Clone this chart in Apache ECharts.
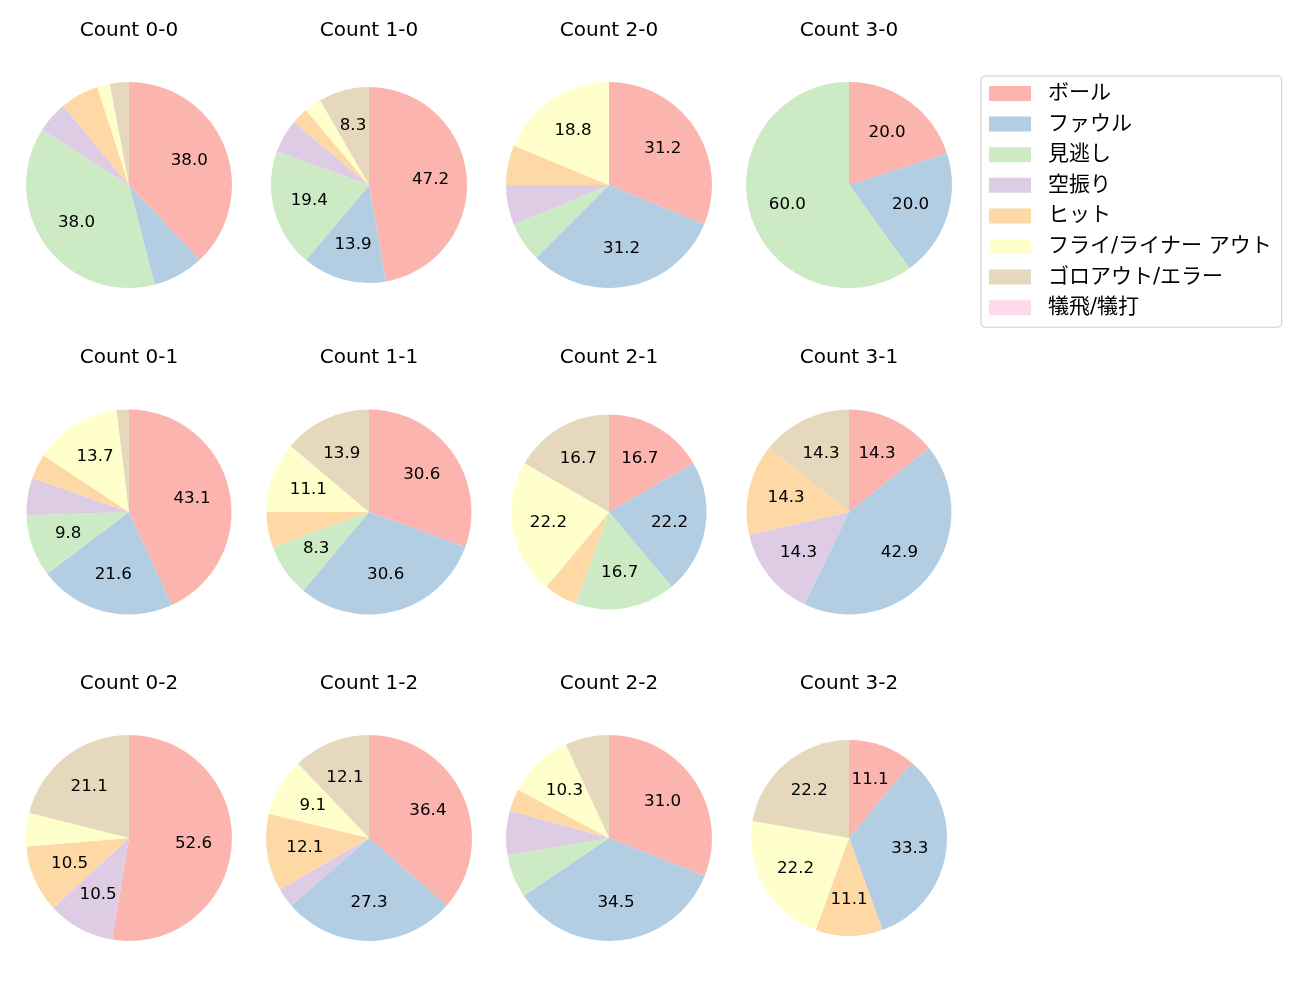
<!DOCTYPE html>
<html><head><meta charset="utf-8">
<script src="https://cdn.jsdelivr.net/npm/echarts@6/dist/echarts.min.js"></script>
<style>html,body{margin:0;padding:0;background:#fff}#c{width:1300px;height:1000px}</style>
</head><body><div id="c"></div>
<script>
const categories = ['ボール','ファウル','見逃し','空振り','ヒット','フライ/ライナー アウト','ゴロアウト/エラー','犠飛/犠打'];
const colors = ['#fbb4ae','#b3cde3','#ccebc5','#decbe4','#fed9a6','#ffffcc','#e5d8bd','#fddaec'];
const titles = ['Count 0-0','Count 1-0','Count 2-0','Count 3-0','Count 0-1','Count 1-1','Count 2-1','Count 3-1','Count 0-2','Count 1-2','Count 2-2','Count 3-2'];
const c00 = [38, 8, 38, 5, 6, 2, 3, 0];
const c10 = [17, 5, 7, 2, 1, 1, 3, 0];
const c20 = [5, 5, 1, 1, 1, 3, 0, 0];
const c30 = [1, 1, 3, 0, 0, 0, 0, 0];
const c01 = [22, 11, 5, 3, 2, 7, 1, 0];
const c11 = [11, 11, 3, 0, 2, 4, 5, 0];
const c21 = [3, 4, 3, 0, 1, 4, 3, 0];
const c31 = [1, 3, 0, 1, 1, 0, 1, 0];
const c02 = [10, 0, 0, 2, 2, 1, 4, 0];
const c12 = [12, 9, 0, 1, 4, 3, 4, 0];
const c22 = [9, 10, 2, 2, 1, 3, 2, 0];
const c32 = [1, 3, 0, 0, 1, 2, 2, 0];
const pies = [c00,c10,c20,c30,c01,c11,c21,c31,c02,c12,c22,c32];

// layout
const colX = [129, 369, 609, 849];
const rowY = [185, 512, 838];
const radii = [103, 98, 103, 103, 102.5, 102.5, 97.5, 102.5, 103, 103, 103, 98];
const LATIN = '"DejaVu Sans", "Noto Sans CJK JP", sans-serif';

// Python-like '%.1f' (round half to even on exact halves)
function fmt1(x) {
  const y = x * 10, f = Math.floor(y), d = y - f;
  let r;
  if (Math.abs(d - 0.5) < 1e-9) r = (f % 2 === 0) ? f : f + 1;
  else r = Math.round(y);
  return (r / 10).toFixed(1);
}

const series = [];
const overlay = [];
const titleOpts = [];
pies.forEach((vals, i) => {
  const cx = colX[i % 4], cy = rowY[Math.floor(i / 4)], r = radii[i];
  const sum = vals.reduce((a, b) => a + b, 0);
  const data = categories.map((n, k) => ({ name: n, value: vals[k], itemStyle: { color: colors[k] } }));
  series.push({
    type: 'pie', center: [cx, cy], radius: [0, r], startAngle: 90, clockwise: true,
    silent: true, animation: false, label: { show: false }, labelLine: { show: false },
    itemStyle: { borderWidth: 0 }, data: data
  });
  overlay.push({
    type: 'pie', center: [cx, cy], radius: [0.2 * r, r], startAngle: 90, clockwise: true,
    silent: true, animation: false, labelLine: { show: false },
    label: {
      show: true, position: 'inside', color: '#000', fontSize: 16.7, fontFamily: LATIN,
      formatter: p => { const pct = p.value / sum * 100; return pct > 8.05 ? fmt1(pct) : ''; }
    },
    itemStyle: { color: 'rgba(0,0,0,0)', borderWidth: 0 },
    data: categories.map((n, k) => ({ name: n, value: vals[k] }))
  });
  titleOpts.push({
    text: titles[i], left: cx, top: cy - 164, textAlign: 'center', padding: 0,
    textStyle: { fontSize: 20, fontWeight: 'normal', color: '#000', fontFamily: LATIN }
  });
});

const chart = echarts.init(document.getElementById('c'), null, { renderer: 'canvas' });
chart.setOption({
  animation: false,
  title: titleOpts,
  legend: {
    orient: 'vertical', left: 981, top: 76, padding: [7, 10, 9, 8],
    borderColor: '#cccccc', borderWidth: 1, borderRadius: 4,
    itemWidth: 42, itemHeight: 15, itemGap: 9.6, icon: 'rect',
    selectedMode: false,
    textStyle: { fontSize: 21, lineHeight: 20, color: '#000', fontFamily: LATIN, padding: [0, 0, 0, 12] },
    data: categories.map((n, k) => ({ name: n, itemStyle: { color: colors[k] } }))
  },
  series: series.concat(overlay)
});
</script></body></html>
